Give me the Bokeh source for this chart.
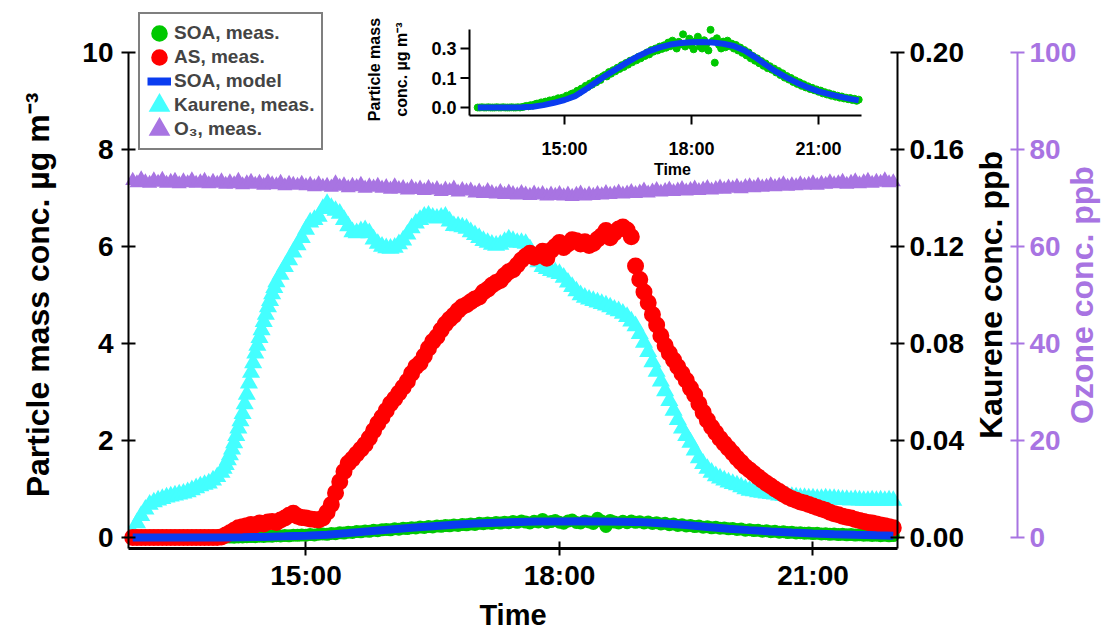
import numpy as np
from bokeh.plotting import figure
from bokeh.models import (Range1d, LinearAxis, FixedTicker, PrintfTickFormatter,
                          Legend, LegendItem, ColumnDataSource, Label)
from bokeh.core.properties import value
from bokeh.embed import file_html
from bokeh.resources import INLINE

# ---------------- data ----------------
T0 = 12.95      # first sample (hours of day)
DT = 0.05       # sampling step (hours)

SOA_MEAS = [  # ug m-3
    0.000, 0.000, 0.001, 0.000, 0.000, 0.001, 0.000, 0.000, 0.000, 0.001, 0.000, 0.000, 0.001, 0.000, 0.000, 0.000, 0.001, 0.000, 0.000, 0.001,
    0.000, 0.002, 0.005, 0.008, 0.006, 0.012, 0.010, 0.016, 0.020, 0.018, 0.026, 0.022, 0.030, 0.026, 0.036, 0.032, 0.040, 0.035, 0.047, 0.044,
    0.050, 0.046, 0.060, 0.052, 0.068, 0.072, 0.066, 0.085, 0.078, 0.096, 0.092, 0.110, 0.104, 0.122, 0.116, 0.135, 0.128, 0.148, 0.140, 0.158,
    0.165, 0.158, 0.180, 0.172, 0.190, 0.184, 0.202, 0.196, 0.215, 0.206, 0.226, 0.218, 0.238, 0.230, 0.246, 0.240, 0.258, 0.250, 0.266, 0.262,
    0.280, 0.270, 0.292, 0.284, 0.300, 0.290, 0.310, 0.298, 0.316, 0.304, 0.330, 0.312, 0.340, 0.318, 0.300, 0.334, 0.322, 0.372, 0.310, 0.328,
    0.350, 0.315, 0.296, 0.338, 0.360, 0.310, 0.300, 0.342, 0.322, 0.290, 0.395, 0.338, 0.228, 0.352, 0.318, 0.300, 0.335, 0.306, 0.340, 0.312,
    0.325, 0.300, 0.318, 0.290, 0.305, 0.278, 0.292, 0.265, 0.280, 0.250, 0.262, 0.238, 0.250, 0.225, 0.236, 0.212, 0.224, 0.200, 0.210, 0.192,
    0.198, 0.178, 0.186, 0.165, 0.174, 0.152, 0.160, 0.142, 0.150, 0.130, 0.138, 0.120, 0.128, 0.110, 0.118, 0.102, 0.108, 0.094, 0.100, 0.088,
    0.092, 0.080, 0.086, 0.072, 0.078, 0.066, 0.072, 0.060, 0.066, 0.055, 0.060, 0.050, 0.056, 0.046, 0.050, 0.042, 0.048, 0.038, 0.044, 0.034,
    0.040,
]

AS_MEAS = [  # ug m-3
    0.00, 0.00, 0.00, 0.00, 0.00, 0.00, 0.00, 0.00, 0.00, 0.00, 0.00, 0.00, 0.00, 0.00, 0.00, 0.00, 0.00, 0.00, 0.00, 0.00,
    0.00, 0.01, 0.05, 0.10, 0.15, 0.20, 0.22, 0.24, 0.27, 0.26, 0.30, 0.28, 0.32, 0.33, 0.31, 0.36, 0.40, 0.46, 0.50, 0.44,
    0.41, 0.40, 0.38, 0.37, 0.36, 0.40, 0.52, 0.68, 0.92, 1.15, 1.36, 1.53, 1.62, 1.72, 1.82, 1.92, 2.05, 2.20, 2.35, 2.48,
    2.62, 2.76, 2.86, 2.98, 3.10, 3.22, 3.38, 3.52, 3.60, 3.74, 3.90, 4.04, 4.14, 4.28, 4.40, 4.50, 4.58, 4.68, 4.76, 4.80,
    4.86, 4.92, 4.96, 5.06, 5.12, 5.20, 5.26, 5.30, 5.40, 5.48, 5.52, 5.62, 5.72, 5.80, 5.86, 5.78, 5.82, 5.90, 5.76, 5.92,
    6.00, 6.08, 5.98, 6.05, 6.14, 6.12, 6.05, 6.10, 6.02, 6.06, 6.15, 6.22, 6.33, 6.18, 6.28, 6.36, 6.40, 6.34, 6.20, 5.60,
    5.32, 5.06, 4.84, 4.60, 4.38, 4.16, 3.96, 3.80, 3.66, 3.52, 3.38, 3.24, 3.08, 2.94, 2.76, 2.58, 2.42, 2.28, 2.16, 2.04,
    1.94, 1.84, 1.74, 1.64, 1.55, 1.46, 1.39, 1.32, 1.25, 1.18, 1.12, 1.06, 1.00, 0.95, 0.89, 0.84, 0.80, 0.77, 0.73, 0.71,
    0.68, 0.65, 0.62, 0.59, 0.56, 0.52, 0.49, 0.47, 0.44, 0.42, 0.40, 0.37, 0.35, 0.33, 0.31, 0.30, 0.28, 0.26, 0.24, 0.22,
    0.20,
]

KAURENE_PPB = [
    0.0020, 0.0060, 0.0090, 0.0116, 0.0136, 0.0146, 0.0154, 0.0160, 0.0166, 0.0170, 0.0174, 0.0178, 0.0182, 0.0188, 0.0196, 0.0204, 0.0212, 0.0218, 0.0224, 0.0236,
    0.0250, 0.0268, 0.0300, 0.0340, 0.0390, 0.0450, 0.0510, 0.0590, 0.0680, 0.0760, 0.0824, 0.0890, 0.0950, 0.1004, 0.1054, 0.1084, 0.1116, 0.1144, 0.1176, 0.1206,
    0.1236, 0.1270, 0.1300, 0.1310, 0.1324, 0.1356, 0.1376, 0.1360, 0.1348, 0.1336, 0.1310, 0.1284, 0.1260, 0.1256, 0.1264, 0.1268, 0.1256, 0.1230, 0.1212, 0.1200,
    0.1194, 0.1192, 0.1196, 0.1210, 0.1226, 0.1250, 0.1276, 0.1296, 0.1310, 0.1324, 0.1328, 0.1320, 0.1316, 0.1320, 0.1324, 0.1304, 0.1286, 0.1284, 0.1280, 0.1274,
    0.1260, 0.1248, 0.1236, 0.1224, 0.1216, 0.1208, 0.1204, 0.1208, 0.1220, 0.1230, 0.1224, 0.1216, 0.1216, 0.1212, 0.1190, 0.1160, 0.1136, 0.1116, 0.1108, 0.1100,
    0.1094, 0.1088, 0.1072, 0.1052, 0.1034, 0.1016, 0.1000, 0.0990, 0.0982, 0.0976, 0.0970, 0.0964, 0.0958, 0.0950, 0.0940, 0.0934, 0.0924, 0.0910, 0.0892, 0.0872,
    0.0840, 0.0804, 0.0766, 0.0724, 0.0684, 0.0644, 0.0604, 0.0564, 0.0524, 0.0486, 0.0450, 0.0420, 0.0392, 0.0360, 0.0328, 0.0304, 0.0284, 0.0268, 0.0254, 0.0244,
    0.0236, 0.0228, 0.0222, 0.0216, 0.0208, 0.0200, 0.0194, 0.0192, 0.0188, 0.0186, 0.0182, 0.0180, 0.0178, 0.0174, 0.0172, 0.0170, 0.0168, 0.0166, 0.0164, 0.0164,
    0.0162, 0.0162, 0.0160, 0.0160, 0.0162, 0.0160, 0.0160, 0.0158, 0.0156, 0.0156, 0.0154, 0.0156, 0.0154, 0.0152, 0.0152, 0.0154, 0.0152, 0.0154, 0.0152, 0.0154,
    0.0152,
]
# extra (denser) kaurene readings during the steep rise
KAURENE_RISE_T = [14.025, 14.075, 14.125, 14.175, 14.225, 14.275, 14.325, 14.375,
                  14.425, 14.475, 14.525, 14.575, 14.625]
KAURENE_RISE_PPB = [0.0284, 0.0320, 0.0364, 0.0420, 0.0480, 0.0550, 0.0636, 0.0720,
                    0.0792, 0.0856, 0.0920, 0.0976, 0.1030]

O3_PPB = [
    73.6, 73.1, 73.9, 73.3, 73.0, 73.7, 73.2, 73.8, 73.0, 73.4, 73.6, 72.9, 73.5, 73.1, 73.7, 73.0, 73.3, 73.6, 72.9, 73.4,
    73.0, 73.5, 72.8, 73.3, 72.9, 73.6, 72.7, 73.1, 73.4, 72.8, 73.2, 72.6, 73.3, 72.9, 72.7, 73.2, 72.5, 73.0, 72.8, 72.6,
    73.0, 72.5, 72.8, 72.3, 72.9, 72.4, 72.6, 72.2, 73.1, 72.4, 72.7, 72.1, 72.6, 72.3, 72.8, 72.0, 72.5, 72.2, 72.6, 72.0,
    72.3, 71.8, 72.5, 71.9, 72.1, 71.6, 72.2, 71.7, 72.0, 71.5, 72.1, 71.6, 71.9, 71.3, 71.8, 71.5, 72.0, 71.2, 71.7, 71.4,
    71.6, 71.0, 71.4, 70.9, 71.5, 71.1, 70.8, 71.3, 70.7, 71.2, 70.9, 70.6, 71.1, 70.8, 70.5, 71.0, 70.6, 70.9, 70.4, 70.8,
    70.5, 70.9, 70.4, 70.8, 70.3, 70.7, 71.0, 70.4, 70.8, 70.5, 70.9, 70.6, 71.1, 70.7, 70.9, 71.2, 70.8, 71.0, 71.3, 70.9,
    71.2, 71.6, 71.0, 71.4, 71.7, 71.2, 71.5, 71.8, 71.3, 71.6, 71.9, 71.4, 71.7, 72.0, 71.5, 71.8, 72.1, 71.6, 71.9, 72.2,
    71.8, 72.2, 72.0, 72.4, 71.9, 72.3, 72.5, 72.1, 72.6, 72.2, 72.4, 72.7, 72.3, 72.6, 72.9, 72.4, 72.7, 72.5, 72.9, 72.6,
    72.8, 73.1, 72.6, 73.0, 72.8, 73.3, 72.9, 73.1, 73.4, 72.8, 73.2, 73.5, 72.9, 73.3, 73.6, 73.0, 73.4, 73.2, 73.7, 73.1,
    73.3,
]

MODEL_T = [12.95, 13.50, 14.00, 14.25, 14.50, 14.75, 15.00, 15.25, 15.50, 15.75, 16.00, 16.25,
           16.50, 16.75, 17.00, 17.25, 17.50, 17.75, 18.00, 18.25, 18.50, 18.75, 19.00, 19.25,
           19.50, 19.75, 20.00, 20.25, 20.50, 20.75, 21.00, 21.25, 21.50, 21.75, 21.95]
MODEL_SOA = [0.000, 0.000, 0.001, 0.004, 0.012, 0.024, 0.038, 0.058, 0.092, 0.130, 0.166, 0.199,
             0.232, 0.262, 0.287, 0.306, 0.320, 0.328, 0.332, 0.333, 0.330, 0.324, 0.313, 0.290,
             0.256, 0.218, 0.182, 0.152, 0.125, 0.102, 0.082, 0.068, 0.055, 0.044, 0.036]

X_TICKS = [15, 18, 21]
X_TICK_LABELS = ["15:00", "18:00", "21:00"]
PM_TICKS = [0, 2, 4, 6, 8, 10]
KAU_TICKS = [0.0, 0.04, 0.08, 0.12, 0.16, 0.20]
O3_TICKS = [0, 20, 40, 60, 80, 100]
INSET_Y_TICKS = [0.0, 0.15, 0.3]
INSET_Y_LABELS = ["0.0", "0.1", "0.3"]
INSET_X_SPAN = [12.756, 22.016]     # inset axis extent (hours)
INSET_Y_SPAN = [-0.0407, 0.3966]    # inset axis extent (ug m-3)


def times(n):
    return [round(T0 + DT * i, 2) for i in range(n)]


# ---------------- layout helpers ----------------
W, H = 1103, 630


def span(v0, px0, v1, px1, size, flip=False):
    """Range whose values v0/v1 fall at pixels px0/px1 on a canvas side of `size` px."""
    k = (v1 - v0) / (px1 - px0)
    if not flip:
        return Range1d(v0 - px0 * k, v0 + (size - px0) * k)
    # vertical: pixel 0 at top
    return Range1d(v0 - (size - px0) * (-k), v0 + px0 * (-k))


# main axes: 12.9 h -> x=128, 22.0 h -> x=897 ; 0 -> y=537, 10 -> y=52
X_START, X_END = 12.90, 22.00
Y_BOTTOM = -0.227
xr = span(X_START, 128, X_END, 897, W)
yr = span(0, 537, 10, 52, H, flip=True)

FONT = "Liberation Sans"
GREEN = "#00C800"
RED = "#FF0000"
BLUE = "#0A3CF0"
CYAN = "#44FFFF"
PURPLE = "#A874E2"

p = figure(width=W, height=H, output_backend="svg", toolbar_location=None,
           x_range=xr, y_range=yr,
           min_border_left=0, min_border_right=0, min_border_top=0, min_border_bottom=0)
p.outline_line_color = None
p.xgrid.visible = False
p.ygrid.visible = False
p.background_fill_color = "white"
p.border_fill_color = "white"

p.extra_y_ranges = {"kau": span(0, 537, 0.20, 52, H, flip=True),
                    "o3": span(0, 537, 100, 52, H, flip=True),
                    "iy": span(0, 107, 0.3, 48, H, flip=True)}
p.extra_x_ranges = {"ix": span(15, 564, 21, 818, W)}


def style_axis(ax, color="black", tick_fs="28px"):
    ax.axis_line_color = color
    ax.axis_line_width = 2
    ax.major_tick_line_color = color
    ax.major_tick_line_width = 2
    ax.major_tick_in = 7
    ax.major_tick_out = 7
    ax.minor_tick_line_color = None
    ax.major_label_text_font = FONT
    ax.major_label_text_font_style = "bold"
    ax.major_label_text_font_size = tick_fs
    ax.major_label_text_color = color


# left axis
yax = p.yaxis[0]
style_axis(yax)
yax.ticker = FixedTicker(ticks=PM_TICKS)
yax.bounds = (Y_BOTTOM, 10)
yax.fixed_location = X_START
yax.major_label_standoff = 8

# bottom axis
xax = p.xaxis[0]
style_axis(xax)
xax.axis_line_width = 3
xax.ticker = FixedTicker(ticks=X_TICKS)
xax.major_label_overrides = {t: s for t, s in zip(X_TICKS, X_TICK_LABELS)}
xax.bounds = (X_START, X_END)
xax.fixed_location = Y_BOTTOM
xax.major_label_standoff = 4

# right axes
kax = LinearAxis(y_range_name="kau", ticker=FixedTicker(ticks=KAU_TICKS),
                 formatter=PrintfTickFormatter(format="%.2f"))
style_axis(kax)
kax.bounds = (Y_BOTTOM * 0.02, 0.20)
kax.fixed_location = X_END
kax.major_label_standoff = 5

O3_AXIS_X = 23.42   # hours position of the ozone axis (x=1017 px)
oax = LinearAxis(y_range_name="o3", ticker=FixedTicker(ticks=O3_TICKS))
style_axis(oax, color=PURPLE)
oax.bounds = (0, 100)
oax.fixed_location = O3_AXIS_X
oax.major_label_standoff = 5

p.add_layout(kax, "right")
p.add_layout(oax, "right")


# axis titles
def title_label(text, x, y, dx, color, angle, size="32px"):
    return Label(x=x, y=y, text=text, x_offset=dx, angle=angle,
                 text_align="center", text_baseline="middle",
                 text_font=FONT, text_font_style="bold", text_font_size=size,
                 text_color=color)


p.add_layout(title_label("Particle mass conc. µg m⁻³", X_START, 5.0, -91, "black", np.pi / 2))
p.add_layout(title_label("Kaurene conc. ppb", X_END, 5.0, 93, "black", np.pi / 2))
p.add_layout(title_label("Ozone conc. ppb", X_END, 5.0, 184, PURPLE, np.pi / 2))
p.add_layout(title_label("Time", (X_START + X_END) / 2, -1.60, 0, "black", 0, size="29px"))

# ---------------- main series ----------------
o3_src = ColumnDataSource(dict(t=times(len(O3_PPB)), v=O3_PPB))
kau_src = ColumnDataSource(dict(t=times(len(KAURENE_PPB)) + KAURENE_RISE_T,
                                v=KAURENE_PPB + KAURENE_RISE_PPB))
as_src = ColumnDataSource(dict(t=times(len(AS_MEAS)), v=AS_MEAS))
soa_src = ColumnDataSource(dict(t=times(len(SOA_MEAS)), v=SOA_MEAS))
mod_src = ColumnDataSource(dict(t=MODEL_T, v=MODEL_SOA))

o3_r = p.scatter("t", "v", source=o3_src, y_range_name="o3", marker="triangle",
                 size=3, fill_color=PURPLE, line_color=PURPLE, line_width=7, line_join="miter")
kau_r = p.scatter("t", "v", source=kau_src, y_range_name="kau", marker="triangle",
                  size=6, fill_color=CYAN, line_color=CYAN, line_width=7, line_join="miter")
soa_r = p.scatter("t", "v", source=soa_src, marker="circle", size=6,
                  fill_color=GREEN, line_color=GREEN, line_width=7)
as_r = p.scatter("t", "v", source=as_src, marker="circle", size=10,
                 fill_color=RED, line_color=RED, line_width=7)
mod_r = p.line("t", "v", source=mod_src, line_color=BLUE, line_width=8)

legend = Legend(items=[
    LegendItem(label="SOA, meas.", renderers=[soa_r]),
    LegendItem(label="AS, meas.", renderers=[as_r]),
    LegendItem(label="SOA, model", renderers=[mod_r]),
    LegendItem(label="Kaurene, meas.", renderers=[kau_r]),
    LegendItem(label="O₃, meas.", renderers=[o3_r]),
], location=(138, H - 150))
legend.glyph_width = 24
legend.glyph_height = 24
legend.spacing = 0
legend.padding = 7
legend.margin = 0
legend.label_standoff = 3
legend.label_text_font = FONT
legend.label_text_font_style = "bold"
legend.label_text_font_size = "19px"
legend.border_line_color = "black"
legend.border_line_width = 2
legend.background_fill_color = "white"
legend.background_fill_alpha = 1.0
p.add_layout(legend)

# ---------------- inset (own ranges "ix"/"iy") ----------------
p.scatter("t", "v", source=soa_src, x_range_name="ix", y_range_name="iy",
          marker="circle", size=7, fill_color=GREEN, line_color=GREEN)
p.line("t", "v", source=mod_src, x_range_name="ix", y_range_name="iy",
       line_color=BLUE, line_width=6)

p.segment(x0=[INSET_X_SPAN[0], INSET_X_SPAN[0]], y0=[INSET_Y_SPAN[0], INSET_Y_SPAN[0]],
          x1=[INSET_X_SPAN[0], INSET_X_SPAN[1]], y1=[INSET_Y_SPAN[1], INSET_Y_SPAN[0]],
          x_range_name="ix", y_range_name="iy", line_color="black", line_width=2)
p.ray(x=[INSET_X_SPAN[0]] * len(INSET_Y_TICKS), y=INSET_Y_TICKS, length=9, length_units="screen",
      angle=np.pi, x_range_name="ix", y_range_name="iy", line_color="black", line_width=2)
p.ray(x=X_TICKS, y=[INSET_Y_SPAN[0]] * len(X_TICKS), length=9, length_units="screen",
      angle=-np.pi / 2, x_range_name="ix", y_range_name="iy", line_color="black", line_width=2)

p.text(x=[INSET_X_SPAN[0]] * len(INSET_Y_TICKS), y=INSET_Y_TICKS, text=INSET_Y_LABELS,
       x_offset=-13, text_align="right", text_baseline="middle",
       text_font=value(FONT), text_font_style="bold", text_font_size="18px",
       x_range_name="ix", y_range_name="iy", text_color="black")
p.text(x=X_TICKS, y=[INSET_Y_SPAN[0]] * len(X_TICKS), text=X_TICK_LABELS,
       y_offset=33, text_align="center", text_baseline="middle",
       text_font=value(FONT), text_font_style="bold", text_font_size="18px",
       x_range_name="ix", y_range_name="iy", text_color="black")
p.text(x=[17.55], y=[INSET_Y_SPAN[0]], text=["Time"], y_offset=54,
       text_align="center", text_baseline="middle",
       text_font=value(FONT), text_font_style="bold", text_font_size="16px",
       x_range_name="ix", y_range_name="iy", text_color="black")
ylab_src = ColumnDataSource(dict(x=[INSET_X_SPAN[0]] * 2, y=[0.193, 0.193],
                                 text=["Particle mass", "conc. µg m⁻³"], dx=[-95, -68]))
p.text(x="x", y="y", text="text", x_offset="dx", source=ylab_src, angle=np.pi / 2,
       text_align="center", text_baseline="middle",
       text_font=value(FONT), text_font_style="bold", text_font_size="16px",
       x_range_name="ix", y_range_name="iy", text_color="black")

open("out.html", "w").write(file_html(p, INLINE))
